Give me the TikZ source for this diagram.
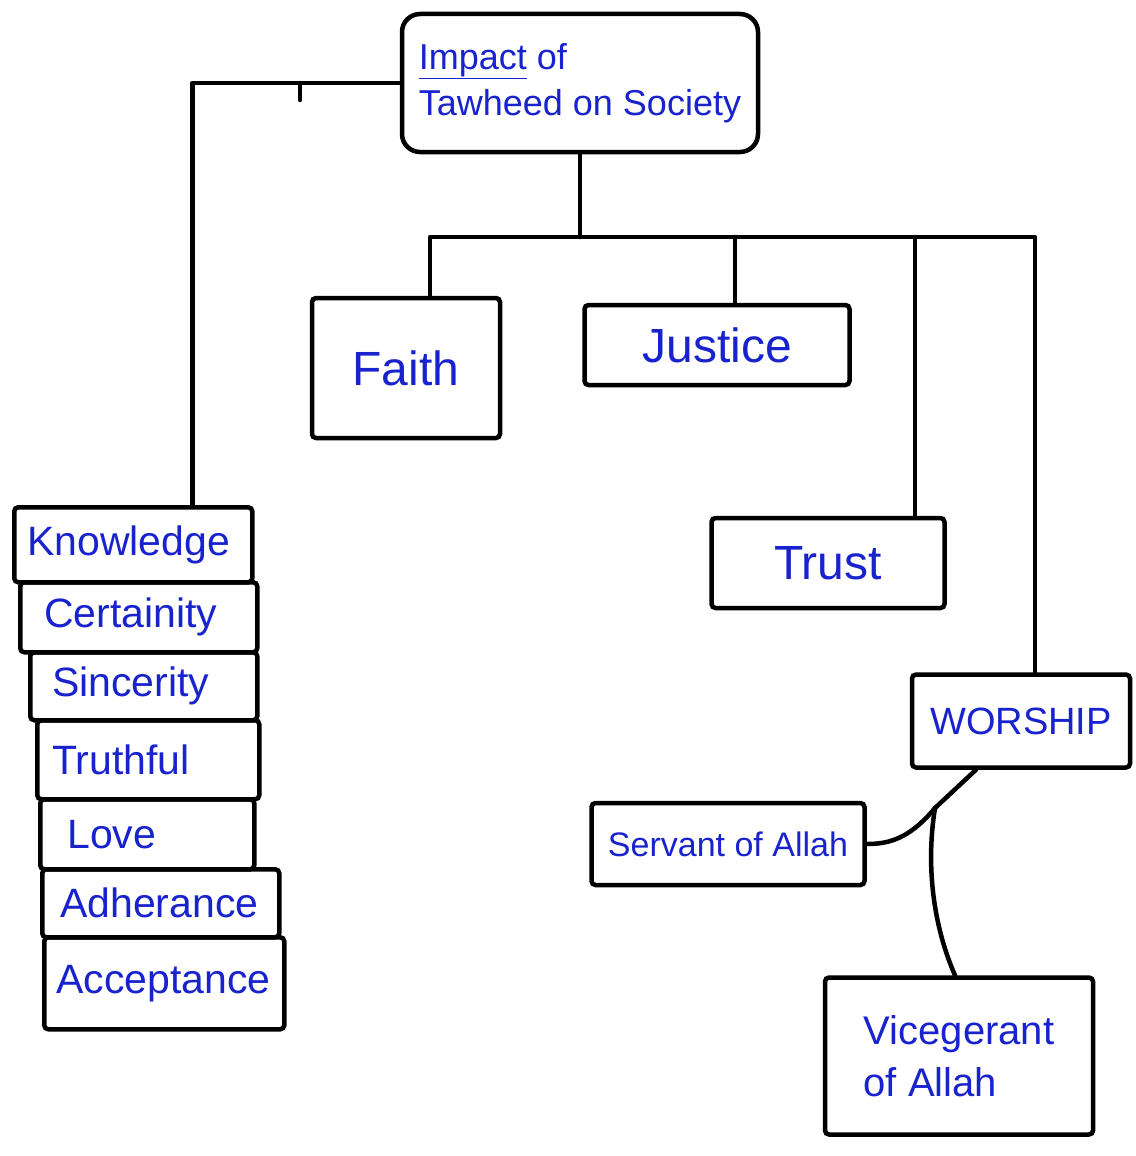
\documentclass[tikz,border=0pt]{standalone}
\usepackage{fontspec}
\setmainfont{Liberation Sans}
\definecolor{ink}{RGB}{25,35,205}
\begin{document}
\begin{tikzpicture}[x=1pt,y=-1pt,
  box/.style={draw=black, line width=4.5pt, rounded corners=4pt, text=ink, inner sep=0pt},
  conn/.style={draw=black, line width=4.5pt, line cap=round, line join=round},
  stackbox/.style={box, anchor=north west, align=left, inner ysep=0pt, font=\fontsize{41}{48}\selectfont},
  bigtxt/.style={font=\fontsize{48}{56}\selectfont}
]
\useasboundingbox[fill=white] (0,0) rectangle (1135,1156);

% main boxes
\node[box, rounded corners=18pt, minimum width=356pt, minimum height=138pt, align=left,
      font=\fontsize{36}{46}\selectfont] (title) at (580,83) {\underline{Impact} of\\Tawheed on Society};
\node[box, bigtxt, minimum width=188pt, minimum height=140pt] (faith) at (406,368) {Faith};
\node[box, bigtxt, minimum width=265pt, minimum height=80pt] (justice) at (717,345) {Justice};
\node[box, bigtxt, minimum width=233pt, minimum height=90pt] (trust) at (828,563) {Trust};
\node[box, font=\fontsize{38}{44}\selectfont, minimum width=218pt, minimum height=93pt] (worship) at (1021,721) {WORSHIP};
\node[box, font=\fontsize{34}{40}\selectfont, minimum width=273pt, minimum height=82pt] (servant) at (728,844) {Servant of Allah};
\node[box, align=left, font=\fontsize{40}{52}\selectfont, minimum width=268pt, minimum height=157pt] (vice) at (959,1056) {Vicegerant\\of Allah};

% left stack
\node[stackbox, inner xsep=13pt, text width=212pt, minimum height=75pt] (knowledge) at (12,505) {Knowledge};
\node[stackbox, inner xsep=24pt, text width=189pt, minimum height=70pt] (certainity) at (18,580) {Certainity};
\node[stackbox, inner xsep=22pt, text width=183pt, minimum height=68pt] (sincerity) at (28,650) {Sincerity};
\node[stackbox, inner xsep=15pt, text width=192pt, minimum height=79pt] (truthful) at (35,718) {Truthful};
\node[stackbox, inner xsep=27pt, text width=160pt, minimum height=70pt] (love) at (38,797) {Love};
\node[stackbox, inner xsep=18pt, text width=201pt, minimum height=68pt] (adherance) at (40,867) {Adherance};
\node[stackbox, inner xsep=12pt, text width=216pt, minimum height=92pt] (acceptance) at (42,935) {Acceptance};

% connectors
\coordinate (bus) at (572,237);
\coordinate (tickTop) at (300,83);
\coordinate (tickEnd) at (300,100);
\coordinate (fork) at (935,808);

\draw[conn] (title.west) -| ([xshift=59pt]knowledge.north);
\draw[conn] (tickTop) -- (tickEnd);
\draw[conn] (title.south) -- (title.south |- bus);
\draw[conn] ([xshift=24pt]faith.north) |- (bus) -| ([xshift=14pt]worship.north);
\draw[conn] ([xshift=18pt]justice.north) -- ([xshift=18pt]justice.north |- bus);
\draw[conn] ([xshift=87pt]trust.north) -- ([xshift=87pt]trust.north |- bus);
\draw[conn] ([xshift=-45pt]worship.south) -- (fork);
\draw[conn] (fork) .. controls (910,838) and (890,844) .. (servant.east);
\draw[conn] (fork) .. controls (925,870) and (935,930) .. ([xshift=-4pt]vice.north);
\end{tikzpicture}
\end{document}
